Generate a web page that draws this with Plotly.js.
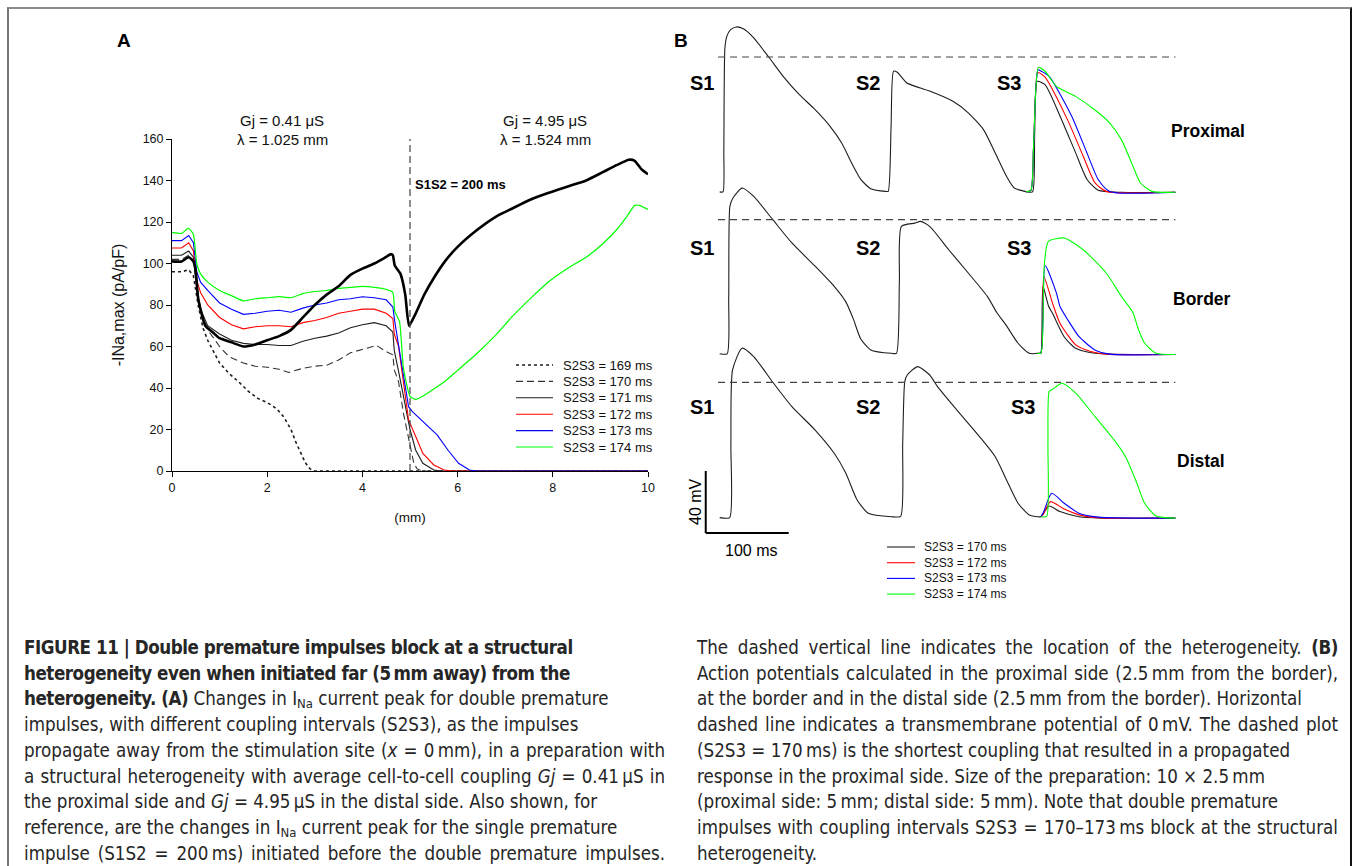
<!DOCTYPE html>
<html><head><meta charset="utf-8">
<script src="https://cdn.plot.ly/plotly-3.0.1.min.js"></script>
<style>
body{margin:0;background:#fff;width:1354px;height:866px;overflow:hidden;position:relative;font-family:"Liberation Sans",Arial,sans-serif;}
#chart{position:absolute;left:0;top:0;width:1354px;height:866px;}
#frame{position:absolute;left:7px;top:7px;width:1345px;height:900px;border-top:2px solid #8a8a8a;border-left:2px solid #777;border-right:2px solid #111;box-sizing:border-box;pointer-events:none;}
.cap{position:absolute;top:635px;font-family:"Liberation Sans Narrow","Arial Narrow","DejaVu Sans Condensed",sans-serif;font-size:18.6px;line-height:25.7px;color:#262626;}
.cap div{white-space:nowrap;}
.cap div.j{text-align:justify;text-align-last:justify;white-space:normal;}
.cap b{letter-spacing:-0.45px;}
.cap sub{font-size:70%;vertical-align:-0.25em;line-height:0;}
</style></head>
<body>
<div id="chart"></div>
<div id="frame"></div>
<div class="cap" style="left:24px;width:641px;">
<div><b>FIGURE 11 | Double premature impulses block at a structural</b></div>
<div><b>heterogeneity even when initiated far (5&thinsp;mm away) from the</b></div>
<div><b>heterogeneity. (A)</b> Changes in I<sub>Na</sub> current peak for double premature</div>
<div>impulses, with different coupling intervals (S2S3), as the impulses</div>
<div class="j">propagate away from the stimulation site (<i>x</i>&nbsp;=&nbsp;0&thinsp;mm), in a preparation with</div>
<div class="j">a structural heterogeneity with average cell-to-cell coupling <i>Gj</i>&nbsp;=&nbsp;0.41&thinsp;μS in</div>
<div>the proximal side and <i>Gj</i>&nbsp;=&nbsp;4.95&thinsp;μS in the distal side. Also shown, for</div>
<div>reference, are the changes in I<sub>Na</sub> current peak for the single premature</div>
<div class="j">impulse (S1S2 = 200&thinsp;ms) initiated before the double premature impulses.</div>
</div>
<div class="cap" style="left:697px;width:641px;">
<div class="j">The dashed vertical line indicates the location of the heterogeneity. <b>(B)</b></div>
<div class="j">Action potentials calculated in the proximal side (2.5&thinsp;mm from the border),</div>
<div>at the border and in the distal side (2.5&thinsp;mm from the border). Horizontal</div>
<div class="j">dashed line indicates a transmembrane potential of 0&thinsp;mV. The dashed plot</div>
<div>(S2S3 = 170&thinsp;ms) is the shortest coupling that resulted in a propagated</div>
<div>response in the proximal side. Size of the preparation: 10 × 2.5&thinsp;mm</div>
<div>(proximal side: 5&thinsp;mm; distal side: 5&thinsp;mm). Note that double premature</div>
<div class="j">impulses with coupling intervals S2S3 = 170–173&thinsp;ms block at the structural</div>
<div>heterogeneity.</div>
</div>
<script>
// ---------------- Panel A data: -INa,max (pA/pF) vs distance (mm) ----------------
const xTicksA = [0, 2, 4, 6, 8, 10];
const yTicksA = [0, 20, 40, 60, 80, 100, 120, 140, 160];

const x169 = [0, 0.2, 0.35, 0.45, 0.55, 0.65, 0.75, 0.9, 1.0, 1.2, 1.4, 1.6, 1.8, 2.0, 2.2, 2.35, 2.5, 2.6, 2.7, 2.8, 2.9, 3.0, 10];
const y169 = [96, 96, 97, 94, 80, 69, 63, 56, 52, 47, 43, 38.5, 35, 33, 30, 26, 20, 14, 9, 4, 1, 0, 0];

const x170 = [0, 0.2, 0.35, 0.45, 0.52, 0.6, 0.75, 0.9, 1.0, 1.2, 1.5, 1.75, 2.0, 2.25, 2.45, 2.75, 3.0, 3.25, 3.5, 3.75, 4.0, 4.3, 4.5, 4.64, 4.67, 4.76, 4.86, 4.97, 5.08, 5.15, 5.25, 10];
const y170 = [102, 102, 104, 101, 90, 78, 68, 63, 60, 55, 52, 50.5, 50, 49, 47.5, 49.5, 50.5, 51, 53.5, 57, 58.5, 60.5, 57.5, 56, 48.7, 43, 28, 15, 3.7, 1, 0, 0];

const x171 = [0, 0.2, 0.35, 0.45, 0.52, 0.6, 0.75, 1.0, 1.25, 1.5, 1.75, 2.0, 2.25, 2.5, 2.75, 3.0, 3.25, 3.5, 3.75, 4.0, 4.25, 4.5, 4.64, 4.67, 4.76, 4.89, 5.0, 5.12, 5.27, 5.5, 5.65, 10];
const y171 = [104, 104, 106, 103, 88, 78, 70, 66, 63, 61.5, 61, 61, 60.5, 60.5, 62.5, 64, 65, 66.5, 69, 70.5, 71.5, 70, 67, 58, 48, 32.6, 20, 10, 3.7, 0.5, 0, 0];

const x172 = [0, 0.2, 0.35, 0.45, 0.52, 0.6, 0.75, 1.0, 1.25, 1.5, 1.75, 2.0, 2.25, 2.5, 2.75, 3.0, 3.25, 3.5, 3.75, 4.0, 4.25, 4.5, 4.64, 4.67, 4.76, 4.86, 4.97, 5.12, 5.27, 5.5, 5.72, 5.9, 10];
const y172 = [107.5, 107.5, 110, 106, 92, 86, 80, 74, 70.5, 68.5, 69.5, 70, 70, 69.5, 71.5, 72.5, 74, 76, 77, 78, 78, 76, 73.5, 66, 60, 42, 24.6, 16.6, 8.5, 2.9, 0.5, 0, 0];

const x173 = [0, 0.2, 0.35, 0.45, 0.52, 0.6, 0.75, 1.0, 1.25, 1.5, 1.75, 2.0, 2.25, 2.5, 2.75, 3.0, 3.25, 3.5, 3.75, 4.0, 4.25, 4.5, 4.64, 4.68, 4.8, 4.9, 4.97, 5.05, 5.27, 5.57, 5.8, 6.02, 6.25, 6.4, 10];
const y173 = [111, 111, 113.5, 110, 96, 91, 87, 81, 78, 75.5, 76, 77, 77.5, 76.5, 78.5, 80, 81, 82.5, 83, 84, 83.5, 82.5, 79, 72, 55, 40, 31, 28.6, 23.8, 17.4, 10, 3.7, 0.5, 0, 0];

const x174 = [0, 0.2, 0.35, 0.45, 0.52, 0.6, 0.75, 1.0, 1.25, 1.5, 1.75, 2.0, 2.25, 2.5, 2.75, 3.0, 3.25, 3.5, 3.75, 4.0, 4.25, 4.5, 4.64, 4.68, 4.78, 4.86, 5.0, 5.12, 5.3, 5.5, 5.75, 6.0, 6.4, 6.8, 7.15, 7.5, 7.9, 8.3, 8.7, 9.05, 9.35, 9.55, 9.72, 9.82, 10];
const y174 = [115, 114.5, 117, 114, 100, 95, 91, 87, 84.5, 82, 83, 83.5, 84, 83.5, 85.5, 86.5, 87, 88, 88.5, 89, 88.5, 87.5, 86, 77, 72, 50, 36, 34.5, 36.5, 39.5, 43.5, 48.5, 56.5, 65.5, 74.5, 82.5, 91, 97.5, 103, 109.5, 116.5, 122.5, 128, 128, 126];

const xS1S2 = [0, 0.2, 0.35, 0.45, 0.5, 0.55, 0.7, 0.85, 1.0, 1.25, 1.5, 1.75, 2.0, 2.25, 2.5, 2.75, 3.0, 3.25, 3.5, 3.75, 4.0, 4.25, 4.45, 4.6, 4.64, 4.68, 4.8, 4.9, 4.98, 5.1, 5.3, 5.5, 5.75, 6.0, 6.4, 6.8, 7.15, 7.5, 7.9, 8.3, 8.7, 9.05, 9.35, 9.6, 9.72, 9.86, 10];
const yS1S2 = [101, 101, 103, 101, 96, 83, 70, 67, 64, 62, 60, 61, 63, 65, 68, 74, 80, 85, 89, 94.5, 97.5, 100, 102.5, 104.5, 104, 99, 95, 85, 70, 75, 85, 93, 101.5, 108, 116, 122.5, 126.5, 130.5, 134, 137, 140, 144, 147.5, 150, 149.5, 145.5, 143];

const namesA = ['S2S3 = 169 ms', 'S2S3 = 170 ms', 'S2S3 = 171 ms', 'S2S3 = 172 ms', 'S2S3 = 173 ms', 'S2S3 = 174 ms'];

// ---------------- Panel B data: membrane potential (mV) vs time (ms) ----------------
const tProx170 = [-4, 0, 1, 2.3, 4.6, 9.2, 16, 25, 37, 55, 74, 92, 111, 129, 143, 155, 166, 178, 196, 199, 202.5, 205.5, 210, 221.6, 249, 277, 295.5, 314, 328, 341.6, 351, 367, 373, 375.5, 378.6, 388, 406, 425, 438.6, 452, 480, 545];
const vProx170 = [-87, -87, -60, 5.8, 13.3, 17.6, 19.4, 18, 12.3, 0, -13.5, -24.3, -34, -44.7, -55.5, -68.4, -79, -85, -86.7, -86.7, -45, -9.2, -9.9, -16.8, -22, -28.6, -36, -47, -62, -77, -84.5, -87, -87, -50, -15.7, -17.8, -38, -62, -79, -86, -87.3, -87.3];
const tProx172 = [365, 371, 374, 377, 379, 388, 415, 434, 448, 461.7, 545];
const vProx172 = [-87, -86, -60, -20, -9.9, -13, -40.4, -64, -81, -86.7, -87.3];
const tProx173 = [365, 371, 374, 377, 379.5, 383, 393, 420, 438.6, 452, 466, 545];
const vProx173 = [-87, -86, -60, -20, -8.2, -9, -12.5, -38, -62, -79, -86.7, -87.3];
const tProx174 = [365, 371, 374, 377, 380, 388, 401.7, 424.7, 447.8, 466, 480, 494, 503, 517, 545];
const vProx174 = [-87, -86, -60, -20, -6.7, -9.2, -19, -25.4, -34, -42.6, -53.3, -70.5, -81.3, -86.7, -87.3];

const tBord170 = [-4, 5, 6.9, 8.3, 12, 23, 37, 60, 83, 111, 134, 148, 157, 166, 178, 203, 209, 212.5, 215, 231, 238, 249, 272, 295.5, 318.5, 330, 341, 355.5, 369, 381, 383, 385.5, 392.4, 397, 411, 425, 448, 545];
const vBord170 = [-86.5, -86.5, -50, 8.6, 14, 20.4, 15, 0, -15, -30, -43, -53, -64, -77, -84, -86.2, -86.2, -40, -4.3, -2.2, -1.1, -4.3, -19.4, -34.4, -49.5, -60, -68, -79.7, -86.2, -86.2, -86, -43, -56, -60.4, -75.5, -83, -86.2, -87];
const tBord172 = [378, 383, 386.5, 397, 406, 425, 443, 462, 545];
const vBord172 = [-86.2, -86, -36.6, -53.8, -66.8, -80.8, -85, -86.7, -87];
const tBord173 = [378, 383, 388, 401.7, 406, 415.5, 429, 448, 466, 545];
const vBord173 = [-86.2, -86, -29.5, -47.3, -56, -64.7, -75.5, -84, -86.7, -87];
const tBord174 = [378, 383, 386, 387, 392, 411, 434, 461.7, 480, 494, 500, 508, 521.7, 545];
const vBord174 = [-86.2, -86, -50, -30, -14, -11.8, -19.4, -34.4, -49.5, -60, -70, -79.7, -86.2, -87];

const tDist170 = [-4, 8, 9.5, 11.5, 23, 37, 60, 83, 111, 134, 148, 161.6, 175, 203, 214, 216.5, 219, 222, 234.5, 249, 258.5, 281.6, 309, 328, 341.6, 355.5, 369, 383, 385.5, 393, 406, 429, 457, 545];
const vDist170 = [-87.3, -87.3, -40, 8, 22, 16.6, 0, -15.7, -30.8, -45.8, -58.7, -75.9, -84.5, -86.7, -86.5, -40, 0.4, 4.7, 10.1, 4.7, -2.8, -17.8, -35, -48, -63, -78, -85.6, -86.7, -85, -79.8, -83.4, -86.7, -87.6, -87.6];
const tDist172 = [383, 386, 394.5, 411, 434, 457, 545];
const vDist172 = [-86.7, -85, -77, -81.7, -86.2, -87.5, -87.6];
const tDist173 = [383, 386, 396, 411, 429, 452, 545];
const vDist173 = [-86.7, -84, -71.6, -78, -84.5, -87, -87.6];
const tDist174 = [383, 390, 391.5, 393, 397, 408.6, 425, 448, 471, 485, 498.6, 508, 521.7, 545];
const vDist174 = [-86.7, -86.5, -40, -6, -4.5, -0.6, -7, -22, -37, -48, -65, -78, -86.2, -87.6];

const namesB = ['S2S3 = 170 ms', 'S2S3 = 172 ms', 'S2S3 = 173 ms', 'S2S3 = 174 ms'];
const rowLabels = ['Proximal', 'Border', 'Distal'];
const stimLabels = ['S1', 'S2', 'S3'];

// ---------------- layout helpers ----------------
const W = 1354, H = 866;
const PX = x => x / W, PY = y => 1 - y / H;
const FONT = '"Liberation Sans", Arial, sans-serif';
const BLK = '#1e1e1e', RED = '#ff0000', BLU = '#0000ff', GRN = '#00ff00';

const styleA = [
  {color: BLK, width: 1.6, dash: 'dot'},
  {color: '#333', width: 1.1, dash: '7px,4px'},
  {color: BLK, width: 1.1, dash: 'solid'},
  {color: RED, width: 1.1, dash: 'solid'},
  {color: BLU, width: 1.1, dash: 'solid'},
  {color: GRN, width: 1.2, dash: 'solid'}
];
const seriesA = [[x169, y169], [x170, y170], [x171, y171], [x172, y172], [x173, y173], [x174, y174]];

const traces = [];
seriesA.forEach((s, i) => traces.push({x: s[0], y: s[1], name: namesA[i], type: 'scatter', mode: 'lines',
  line: Object.assign({shape: i === 5 ? 'spline' : 'linear', smoothing: 0.5}, styleA[i]), xaxis: 'x', yaxis: 'y', showlegend: false, hoverinfo: 'skip'}));
traces.push({x: xS1S2, y: yS1S2, name: 'S1S2 = 200 ms', type: 'scatter', mode: 'lines',
  line: {color: '#000', width: 2.6, shape: 'spline', smoothing: 0.5}, xaxis: 'x', yaxis: 'y', showlegend: false, hoverinfo: 'skip'});

const colB = [BLK, RED, BLU, GRN];
const rowsB = [
  ['y2', [[tProx170, vProx170], [tProx172, vProx172], [tProx173, vProx173], [tProx174, vProx174]]],
  ['y3', [[tBord170, vBord170], [tBord172, vBord172], [tBord173, vBord173], [tBord174, vBord174]]],
  ['y4', [[tDist170, vDist170], [tDist172, vDist172], [tDist173, vDist173], [tDist174, vDist174]]]
];
rowsB.forEach(r => r[1].forEach((s, i) => traces.push({x: s[0], y: s[1], name: namesB[i], type: 'scatter', mode: 'lines',
  line: {color: colB[i], width: 1.1, shape: 'spline', smoothing: 0.6}, xaxis: 'x2', yaxis: r[0], showlegend: false, hoverinfo: 'skip'})));

// pixel geometry of panel B (ms -> px 0.83, mV -> px 1.55)
const t0px = 723, msPx = 0.83, mvPx = 1.55;
const bRange = [-30, 640], vRange = [-100, 30];
const zeroRows = [57, 219.7, 382.3];
const dom = z => [PY(z - vRange[0] * mvPx), PY(z - vRange[1] * mvPx)];

const shapes = [
  {type: 'line', xref: 'x', yref: 'y', x0: 5, x1: 5, y0: 0, y1: 160, line: {color: '#444', width: 1.2, dash: '7px,4px'}}
];
['y2', 'y3', 'y4'].forEach(ax => shapes.push({type: 'line', xref: 'x2', yref: ax, x0: -6, x1: 545, y0: 0, y1: 0,
  line: {color: '#444', width: 1.2, dash: '7px,5px'}}));
// scale bar 40 mV / 100 ms
shapes.push({type: 'line', xref: 'x2', yref: 'y4', x0: -20.8, x1: -20.8, y0: -97.2, y1: -57.2, line: {color: '#000', width: 2}});
shapes.push({type: 'line', xref: 'x2', yref: 'y4', x0: -20.8, x1: 79.2, y0: -97.2, y1: -97.2, line: {color: '#000', width: 2}});

const ann = [];
const A = (x, y, text, o = {}) => ann.push(Object.assign({xref: 'paper', yref: 'paper', x: PX(x), y: PY(y), text: text,
  showarrow: false, xanchor: 'center', yanchor: 'middle', font: {family: FONT, size: 13, color: '#000'}}, o));

// legends (manual, from the series names)
namesA.forEach((n, i) => {
  const yy = 365 + i * 16.4;
  shapes.push({type: 'line', xref: 'paper', yref: 'paper', x0: PX(516), x1: PX(553), y0: PY(yy), y1: PY(yy), line: styleA[i]});
  A(561, yy, n, {xanchor: 'left', font: {family: FONT, size: 13, color: '#111'}});
});
namesB.forEach((n, i) => {
  const yy = 547 + i * 15.7;
  shapes.push({type: 'line', xref: 'paper', yref: 'paper', x0: PX(887), x1: PX(915), y0: PY(yy), y1: PY(yy), line: {color: colB[i], width: 1.1}});
  A(922, yy, n, {xanchor: 'left', font: {family: FONT, size: 12, color: '#111'}});
});

A(124, 41, '<b>A</b>', {font: {family: FONT, size: 19, color: '#000'}});
A(681, 41, '<b>B</b>', {font: {family: FONT, size: 19, color: '#000'}});
A(282, 120, 'Gj = 0.41 μS', {font: {family: FONT, size: 15, color: '#111'}});
A(282, 139, 'λ = 1.025 mm', {font: {family: FONT, size: 15, color: '#111'}});
A(545, 120, 'Gj = 4.95 μS', {font: {family: FONT, size: 15, color: '#111'}});
A(545, 139, 'λ = 1.524 mm', {font: {family: FONT, size: 15, color: '#111'}});
A(413, 184, '<b>S1S2 = 200 ms</b>', {xanchor: 'left', font: {family: FONT, size: 13, color: '#000'}});

const stimX = [[702, 868, 1009], [702, 868, 1019], [702, 868, 1023]];
const stimY = [83, 248, 407];
stimX.forEach((row, r) => row.forEach((x, k) => A(x, stimY[r], '<b>' + stimLabels[k] + '</b>', {font: {family: FONT, size: 20, color: '#000'}})));
A(1208, 131, '<b>' + rowLabels[0] + '</b>', {font: {family: FONT, size: 17.5, color: '#000'}});
A(1202, 299, '<b>' + rowLabels[1] + '</b>', {font: {family: FONT, size: 17.5, color: '#000'}});
A(1201, 461, '<b>' + rowLabels[2] + '</b>', {font: {family: FONT, size: 17.5, color: '#000'}});
A(695, 502, '40 mV', {textangle: -90, font: {family: FONT, size: 16, color: '#000'}});
A(751, 550, '100 ms', {font: {family: FONT, size: 16, color: '#000'}});

const hidden = {visible: false, showgrid: false, zeroline: false, fixedrange: true};
const layout = {
  width: W, height: H, margin: {l: 0, r: 0, t: 0, b: 0}, paper_bgcolor: 'rgba(0,0,0,0)', plot_bgcolor: 'rgba(0,0,0,0)',
  showlegend: false, font: {family: FONT, color: '#000'},
  xaxis: {domain: [PX(172), PX(648)], range: [0, 10], tickvals: xTicksA, ticks: 'outside', ticklen: 5, tickcolor: '#000',
    showline: true, linecolor: '#000', linewidth: 1, showgrid: false, zeroline: false, anchor: 'y',
    tickfont: {family: FONT, size: 12.5, color: '#111'},
    title: {text: '(mm)', standoff: 18, font: {family: FONT, size: 13.5, color: '#111'}}},
  yaxis: {domain: [PY(471), PY(139)], range: [0, 160], tickvals: yTicksA, ticks: 'outside', ticklen: 5, tickcolor: '#000',
    showline: true, linecolor: '#000', linewidth: 1, showgrid: false, zeroline: false, anchor: 'x',
    tickfont: {family: FONT, size: 12.5, color: '#111'},
    title: {text: '-INa,max (pA/pF)', standoff: 14, font: {family: FONT, size: 16, color: '#111'}}},
  xaxis2: Object.assign({domain: [PX(t0px + bRange[0] * msPx), PX(t0px + bRange[1] * msPx)], range: bRange, anchor: 'y4'}, hidden),
  yaxis2: Object.assign({domain: dom(zeroRows[0]), range: vRange, anchor: 'x2'}, hidden),
  yaxis3: Object.assign({domain: dom(zeroRows[1]), range: vRange, anchor: 'x2'}, hidden),
  yaxis4: Object.assign({domain: dom(zeroRows[2]), range: vRange, anchor: 'x2'}, hidden),
  shapes: shapes, annotations: ann
};
Plotly.newPlot('chart', traces, layout, {displayModeBar: false, staticPlot: true});
</script>
</body></html>
